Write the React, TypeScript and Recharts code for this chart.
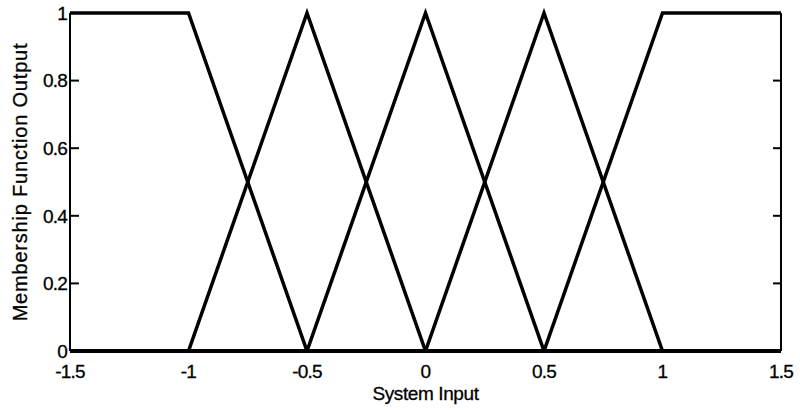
import React from 'react';
import { LineChart, Line, XAxis, YAxis } from 'recharts';

// breakpoints of the five membership functions on the input axis
const inputs = [-1.5, -1, -0.5, 0, 0.5, 1, 1.5];
const negBig = [1, 1, 0, 0, 0, 0, 0];
const negMed = [0, 0, 1, 0, 0, 0, 0];
const zero = [0, 0, 0, 1, 0, 0, 0];
const posMed = [0, 0, 0, 0, 1, 0, 0];
const posBig = [0, 0, 0, 0, 0, 1, 1];

const xTicks = [-1.5, -1, -0.5, 0, 0.5, 1, 1.5];
const yTicks = [0, 0.2, 0.4, 0.6, 0.8, 1];

// the last curve sits on the right axis (same 0..1 domain) so that axis gets its ticks
const seriesKeys = ['nb', 'nm', 'ze', 'pm', 'pb'];
const seriesAxis = ['left', 'left', 'left', 'left', 'right'];

const data = inputs.map((x, i) => ({
  x,
  nb: negBig[i],
  nm: negMed[i],
  ze: zero[i],
  pm: posMed[i],
  pb: posBig[i],
}));

const FONT = '"Liberation Sans", Arial, Helvetica, sans-serif';

const tickText = {
  fontSize: 19,
  fontFamily: FONT,
  letterSpacing: -0.8,
  fill: '#000',
  stroke: '#000',
  strokeWidth: 0.3,
};

// y tick: label right-aligned against the axis plus a mark pointing inward
function LeftTick(props: any) {
  const { x, y, payload } = props;
  return (
    <g>
      <path d={`M${x + 3},${y}h9`} stroke="#000" strokeWidth={2} fill="none" />
      <text x={x} y={y} dy="0.36em" textAnchor="end" {...tickText}>
        {String(payload.value)}
      </text>
    </g>
  );
}

function RightTick(props: any) {
  const { x, y } = props;
  return <path d={`M${x},${y}h-8`} stroke="#000" strokeWidth={2} fill="none" />;
}

function BottomTick(props: any) {
  const { x, y, payload } = props;
  return (
    <text x={x} y={y} dy="0.75em" textAnchor="middle" {...tickText}>
      {String(payload.value)}
    </text>
  );
}

export default function App() {
  return (
    <div style={{ position: 'absolute', left: 0, top: 0, background: '#fff' }}>
      <LineChart
        width={800}
        height={410}
        data={data}
        margin={{ top: 13, right: 18, bottom: 0, left: 8 }}
      >
        <XAxis
          dataKey="x"
          type="number"
          domain={[-1.5, 1.5]}
          ticks={xTicks}
          interval={0}
          height={59}
          tickSize={0}
          tickMargin={13}
          tickLine={false}
          tick={<BottomTick />}
          axisLine={{ stroke: '#000', strokeWidth: 3 }}
          label={{
            value: 'System Input',
            position: 'insideBottom',
            offset: 10,
            fontSize: 19,
            fontFamily: FONT,
            fill: '#000',
            letterSpacing: -0.4,
            stroke: '#000',
            strokeWidth: 0.3,
          }}
        />
        <YAxis
          yAxisId="left"
          type="number"
          domain={[0, 1]}
          ticks={yTicks}
          interval={0}
          width={62}
          tickSize={0}
          tickMargin={3}
          tickLine={false}
          tick={<LeftTick />}
          axisLine={{ stroke: '#000', strokeWidth: 2 }}
          label={{
            value: 'Membership Function Output',
            angle: -90,
            position: 'insideLeft',
            offset: 12,
            fontSize: 20,
            fontFamily: FONT,
            fill: '#000',
            stroke: '#000',
            strokeWidth: 0.3,
            letterSpacing: 0.8,
            style: { textAnchor: 'middle' },
          }}
        />
        <YAxis
          yAxisId="right"
          orientation="right"
          type="number"
          domain={[0, 1]}
          ticks={yTicks}
          interval={0}
          width={1}
          tickSize={0}
          tickMargin={0}
          tickLine={false}
          tick={<RightTick />}
          axisLine={{ stroke: '#000', strokeWidth: 2 }}
        />
        {seriesKeys.map((k, i) => (
          <Line
            key={k}
            yAxisId={seriesAxis[i]}
            dataKey={k}
            type="linear"
            stroke="#000"
            strokeWidth={3.5}
            dot={false}
            activeDot={false}
            isAnimationActive={false}
          />
        ))}
      </LineChart>
    </div>
  );
}
